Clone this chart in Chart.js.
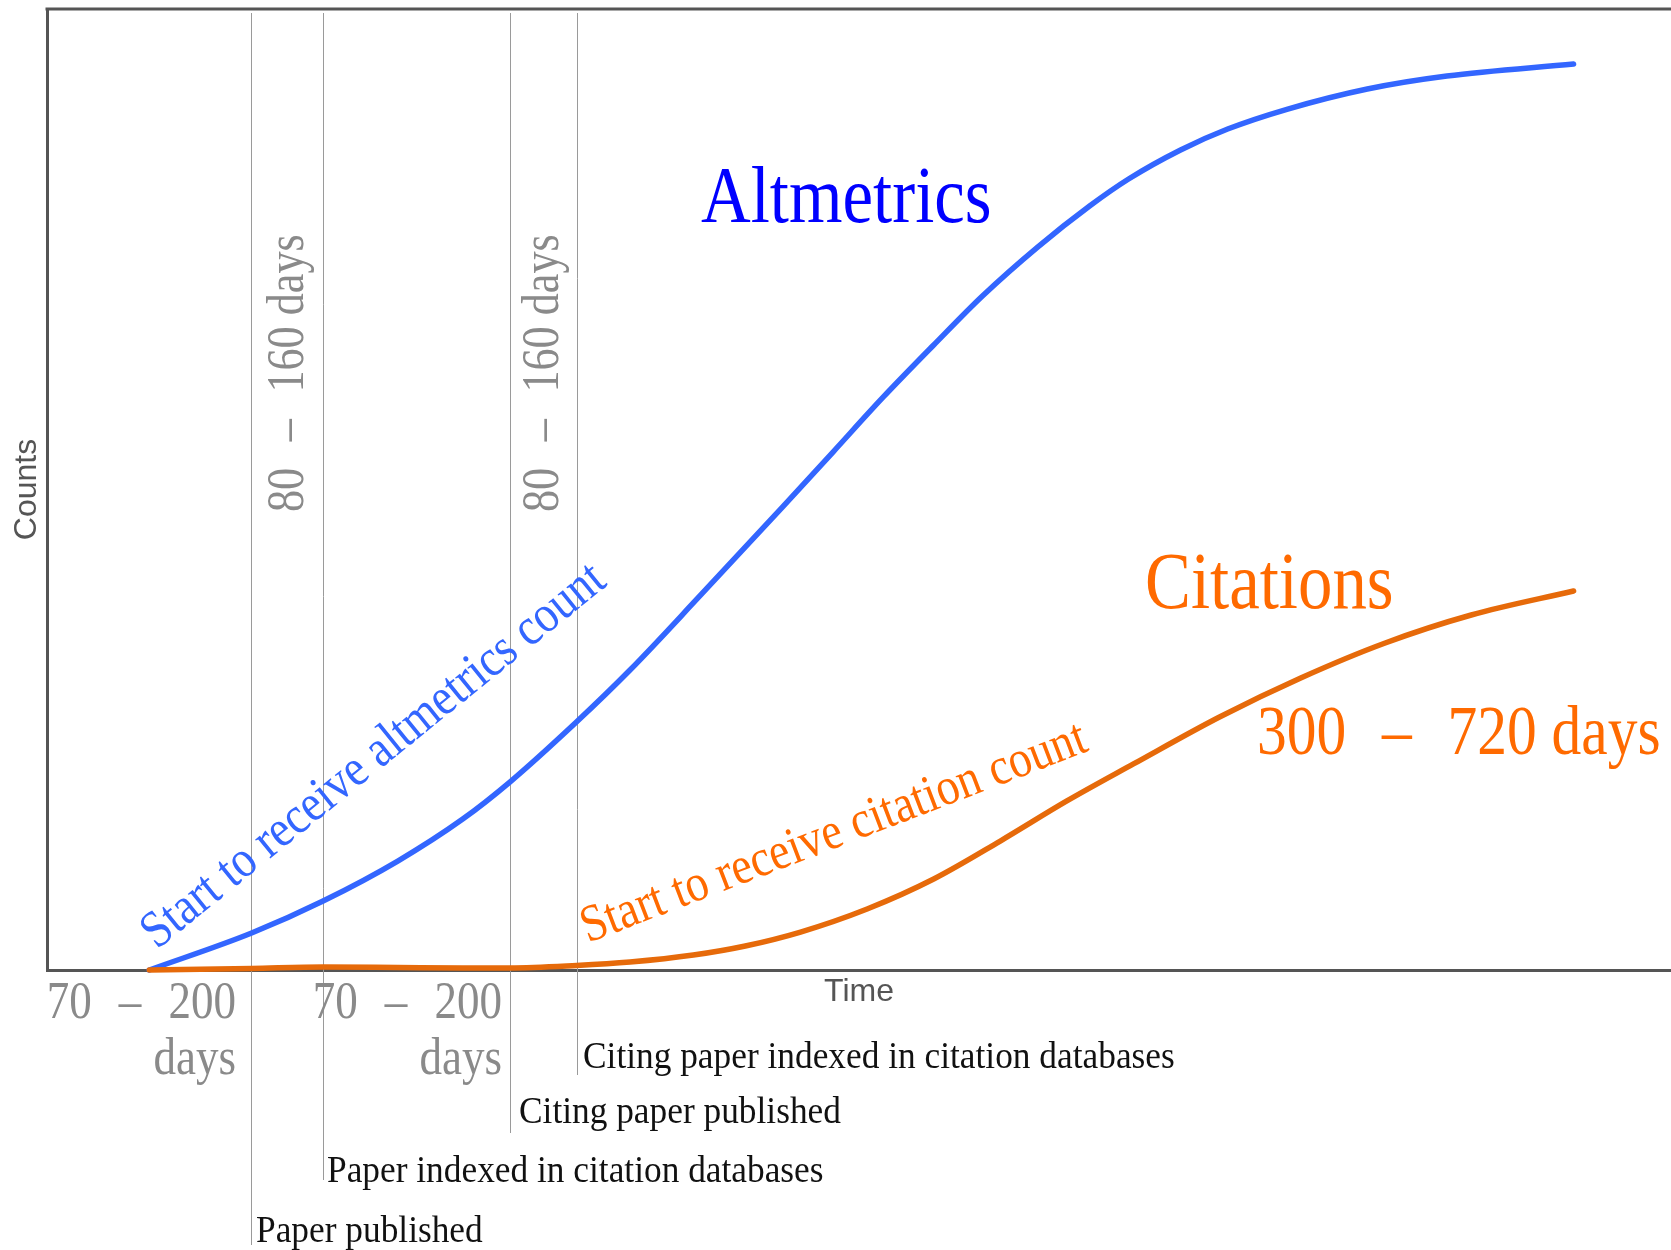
<!DOCTYPE html>
<html>
<head>
<meta charset="utf-8">
<title>Altmetrics vs citations over time</title>
<script src="https://cdn.jsdelivr.net/npm/chart.js@4.4.1/dist/chart.umd.min.js"></script>
<style>
  html, body { margin: 0; padding: 0; background: #fff; }
  #wrap { width: 1671px; height: 1250px; position: relative; }
</style>
</head>
<body>
<div id="wrap"><canvas id="timeline"></canvas></div>
<script>
// both axes are unitless in the original (no ticks), so 0-100 on each
const altTime   = [6.3, 12.6, 17.0, 21.6, 25.6, 28.5, 32.6, 35.9, 40.2, 45.3, 48.4, 51.5, 54.6, 57.6, 61.0, 64.2, 66.6, 69.8, 72.7, 76.4, 81.3, 86.2, 94.0];
const altCounts = [0, 3.85, 7.18, 11.34, 15.71, 19.56, 25.81, 31.22, 38.92, 48.18, 53.9, 59.63, 65.04, 70.14, 75.23, 79.5, 82.31, 85.33, 87.51, 89.59, 91.68, 93.03, 94.28];

const citeTime   = [6.3, 12.6, 17.0, 21.6, 25.6, 28.5, 32.6, 35.9, 39.8, 43.0, 46.4, 50.5, 54.6, 58.7, 62.8, 66.9, 72.2, 77.2, 82.4, 87.7, 94.0];
const citeCounts = [0, 0.16, 0.31, 0.26, 0.21, 0.21, 0.47, 0.83, 1.56, 2.5, 3.95, 6.35, 9.47, 13.42, 17.59, 21.44, 26.33, 30.39, 34.03, 36.94, 39.44];

const milestones = [12.56, 17.0, 28.51, 32.64];
const milestoneLabels = [
  'Paper published',
  'Paper indexed in citation databases',
  'Citing paper published',
  'Citing paper indexed in citation databases'
];
const seriesNames = ['Altmetrics', 'Citations'];
const startNotes = ['Start to receive altmetrics count', 'Start to receive citation count'];
const GAP = '\u2009\u2009\u2009–\u2009\u2009\u2009';
const publishLag = ['70' + GAP + '200', 'days'];
const indexLag = '80' + GAP + '160 days';
const citeLag = '300' + GAP + '720 days';

const SERIF = "'Liberation Serif', 'Noto Sans CJK SC', serif";
const BLUE = '#3366ff';
const ORANGE = '#e66a0a';
const ORANGE_TEXT = '#ff6a00';
const GREY_TEXT = '#8a8a8a';

function toPoints(xs, ys) {
  return xs.map((x, i) => ({ x: x, y: ys[i] }));
}

function drawLabel(ctx, text, x, y, o) {
  ctx.save();
  ctx.translate(x, y);
  if (o.rot) ctx.rotate(o.rot * Math.PI / 180);
  ctx.scale(o.sx || 1, 1);
  ctx.font = o.size + 'px ' + SERIF;
  ctx.fillStyle = o.color;
  ctx.textAlign = o.align || 'left';
  ctx.textBaseline = 'alphabetic';
  ctx.fillText(text, 0, 0);
  ctx.restore();
}

// vertical event lines + top frame edge
const milestoneLines = {
  id: 'milestoneLines',
  beforeDatasetsDraw(chart) {
    const { ctx, chartArea, scales } = chart;
    const bottoms = [1245, 1180, 1133, 1075];
    ctx.save();
    ctx.strokeStyle = '#9a9a9a';
    ctx.lineWidth = 1;
    milestones.forEach((m, i) => {
      const px = Math.round(scales.x.getPixelForValue(m)) + 0.5;
      ctx.beginPath();
      ctx.moveTo(px, chartArea.top + 4);
      ctx.lineTo(px, bottoms[i]);
      ctx.stroke();
    });
    ctx.strokeStyle = '#555';
    ctx.lineWidth = 3;
    ctx.beginPath();
    ctx.moveTo(chartArea.left - 1.5, chartArea.top);
    ctx.lineTo(chartArea.right, chartArea.top);
    ctx.stroke();
    ctx.restore();
  }
};

const annotations = {
  id: 'annotations',
  afterDatasetsDraw(chart) {
    const ctx = chart.ctx;

    drawLabel(ctx, seriesNames[0], 701, 222, { size: 81, sx: 0.85, color: '#0000ff' });
    drawLabel(ctx, seriesNames[1], 1145, 608, { size: 81, sx: 0.85, color: ORANGE_TEXT });
    drawLabel(ctx, citeLag, 1257, 754, { size: 70, sx: 0.85, color: ORANGE_TEXT });

    drawLabel(ctx, startNotes[0], 157, 950, { size: 52.5, sx: 0.87, rot: -39, color: BLUE });
    drawLabel(ctx, startNotes[1], 588, 943, { size: 52.5, sx: 0.87, rot: -21, color: ORANGE_TEXT });

    // lag between events
    [236, 502].forEach(right => {
      drawLabel(ctx, publishLag[0], right, 1018, { size: 53, sx: 0.85, align: 'right', color: GREY_TEXT });
      drawLabel(ctx, publishLag[1], right, 1074, { size: 53, sx: 0.85, align: 'right', color: GREY_TEXT });
    });
    [303, 558].forEach(base => {
      drawLabel(ctx, indexLag, base, 512, { size: 52, sx: 0.85, rot: -90, color: GREY_TEXT });
    });

    const lefts = [256, 327, 519, 583];
    const baselines = [1242, 1182, 1123, 1068];
    milestoneLabels.forEach((t, i) => {
      drawLabel(ctx, t, lefts[i], baselines[i], { size: 38, sx: 0.93, color: '#111' });
    });
  }
};

new Chart(document.getElementById('timeline'), {
  type: 'line',
  data: {
    datasets: [
      {
        label: seriesNames[1],
        data: toPoints(citeTime, citeCounts),
        borderColor: ORANGE,
        borderWidth: 5.5,
        borderCapStyle: 'round',
        cubicInterpolationMode: 'monotone',
        pointRadius: 0,
        clip: false,
        order: 0
      },
      {
        label: seriesNames[0],
        data: toPoints(altTime, altCounts),
        borderColor: BLUE,
        borderWidth: 5.5,
        borderCapStyle: 'round',
        cubicInterpolationMode: 'monotone',
        pointRadius: 0,
        clip: false,
        order: 1
      }
    ]
  },
  options: {
    responsive: true,
    maintainAspectRatio: false,
    animation: false,
    layout: { padding: { top: 9, right: 0, bottom: 239, left: 0 } },
    plugins: { legend: { display: false }, tooltip: { enabled: false } },
    scales: {
      x: {
        type: 'linear',
        min: 0,
        max: 100,
        ticks: { display: false },
        grid: { display: false },
        border: { display: true, color: '#555', width: 3 },
        title: {
          display: true,
          text: 'Time',
          color: '#555',
          font: { family: "'Liberation Sans', Arial, sans-serif", size: 32 },
          padding: { top: 7, bottom: 0 }
        },
        afterFit(scale) { scale.height = 41; }
      },
      y: {
        min: 0,
        max: 100,
        ticks: { display: false },
        grid: { display: false },
        border: { display: true, color: '#555', width: 3 },
        title: {
          display: true,
          text: 'Counts',
          color: '#555',
          font: { family: "'Liberation Sans', Arial, sans-serif", size: 32 },
          padding: { top: 8, bottom: 0 }
        },
        afterFit(scale) { scale.width = 47; }
      }
    }
  },
  plugins: [milestoneLines, annotations]
});
</script>
</body>
</html>
